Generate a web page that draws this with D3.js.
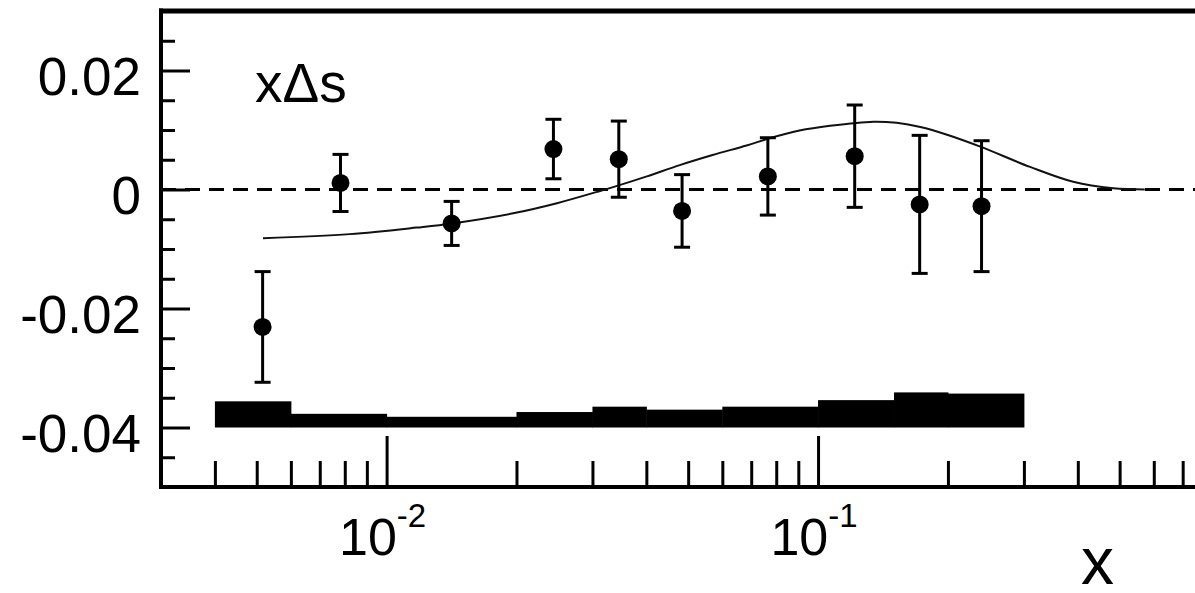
<!DOCTYPE html>
<html>
<head>
<meta charset="utf-8">
<script src="https://cdn.jsdelivr.net/npm/d3@7"></script>
<style>
  html, body { margin: 0; padding: 0; background: #fff; }
  svg { display: block; }
  text { font-family: "Liberation Sans", Arial, Helvetica, sans-serif; fill: #000; }
</style>
</head>
<body>
<svg id="chart" width="1195" height="593"></svg>
<script>
// Measured points: x, x·Δs and statistical uncertainty
const pointX   = [0.00516, 0.00782, 0.01415, 0.02436, 0.03453, 0.0484, 0.0765, 0.1216, 0.172, 0.2393];
const pointY   = [-0.0231, 0.0011, -0.0057, 0.0068, 0.0051, -0.0036, 0.0022, 0.0056, -0.0025, -0.0028];
const pointErr = [0.0093, 0.0048, 0.0037, 0.0050, 0.0064, 0.0061, 0.0065, 0.0086, 0.0116, 0.0110];

// Parametrisation curve
const curveX = [0.00517, 0.00822, 0.01175, 0.01419, 0.01965, 0.02482, 0.03074, 0.0335, 0.04011, 0.04779, 0.05696, 0.06828, 0.0772, 0.0906, 0.1066, 0.1344, 0.1522, 0.1726, 0.1991, 0.2377, 0.3101, 0.3903, 0.483, 0.5718];
const curveY = [-0.0082, -0.0075, -0.0064, -0.0057, -0.0040, -0.0023, -0.0004, 0.0004, 0.0022, 0.0041, 0.0058, 0.0074, 0.0086, 0.0099, 0.0107, 0.0114, 0.0112, 0.0105, 0.0092, 0.0072, 0.0038, 0.0013, 0.0002, 0.0];

// Systematic uncertainty band: bin edges and upper edge above the -0.04 baseline
const bandEdges = [0.004, 0.006, 0.01, 0.02, 0.03, 0.04, 0.06, 0.1, 0.15, 0.2, 0.3];
const bandTop   = [-0.0356, -0.0377, -0.0382, -0.0374, -0.0365, -0.0370, -0.0365, -0.0354, -0.0341, -0.0343];
const bandBase  = -0.04;

// Axis ticks and labels
const yMajor = [-0.04, -0.02, 0, 0.02];
const yMajorLabels = ["-0.04", "-0.02", "0", "0.02"];
const yMinor = [-0.045, -0.035, -0.03, -0.025, -0.015, -0.01, -0.005, 0.005, 0.01, 0.015, 0.025];
const xMajor = [0.01, 0.1, 1];
const xLabelled = [0.01, 0.1];
const xMajorLabels = [["10", "-2"], ["10", "-1"]];
const xMinor = [0.004, 0.005, 0.006, 0.007, 0.008, 0.009,
                0.02, 0.03, 0.04, 0.05, 0.06, 0.07, 0.08, 0.09,
                0.2, 0.3, 0.4, 0.5, 0.6, 0.7, 0.8, 0.9];

const svg = d3.select("#chart");
const frameL = 161, frameR = 1249.5, frameT = 11, frameB = 487;

const x = d3.scaleLog().domain([0.003, 1]).range([frameL, frameR]);
const y = d3.scaleLinear().domain([-0.05, 0.03]).range([frameB, frameT]);

// Systematic band
const bins = d3.range(bandTop.length).map(i => ({x0: bandEdges[i], x1: bandEdges[i + 1], top: bandTop[i]}));
svg.append("g").selectAll("rect").data(bins).join("rect")
  .attr("x", d => x(d.x0))
  .attr("width", d => x(d.x1) - x(d.x0) + 0.5)
  .attr("y", d => y(d.top))
  .attr("height", d => y(bandBase) - y(d.top))
  .attr("fill", "#000");

// Zero line
svg.append("line")
  .attr("x1", frameL).attr("x2", frameR)
  .attr("y1", y(0)).attr("y2", y(0))
  .attr("stroke", "#000").attr("stroke-width", 3)
  .attr("stroke-dasharray", "15 9");

// Curve
const line = d3.line().x(d => x(d[0])).y(d => y(d[1])).curve(d3.curveCatmullRom.alpha(0.5));
svg.append("path")
  .datum(d3.zip(curveX, curveY))
  .attr("d", line)
  .attr("fill", "none").attr("stroke", "#111").attr("stroke-width", 2);

// Error bars and markers
const pts = d3.range(pointX.length).map(i => ({x: pointX[i], y: pointY[i], e: pointErr[i]}));
const gp = svg.append("g").attr("stroke", "#000").attr("stroke-width", 3);
gp.selectAll("line.bar").data(pts).join("line").attr("class", "bar")
  .attr("x1", d => x(d.x)).attr("x2", d => x(d.x))
  .attr("y1", d => y(d.y + d.e)).attr("y2", d => y(d.y - d.e));
gp.selectAll("line.capt").data(pts).join("line").attr("class", "capt")
  .attr("x1", d => x(d.x) - 8).attr("x2", d => x(d.x) + 8)
  .attr("y1", d => y(d.y + d.e)).attr("y2", d => y(d.y + d.e));
gp.selectAll("line.capb").data(pts).join("line").attr("class", "capb")
  .attr("x1", d => x(d.x) - 8).attr("x2", d => x(d.x) + 8)
  .attr("y1", d => y(d.y - d.e)).attr("y2", d => y(d.y - d.e));
svg.append("g").selectAll("circle").data(pts).join("circle")
  .attr("cx", d => x(d.x)).attr("cy", d => y(d.y)).attr("r", 9)
  .attr("fill", "#000");

// Y axis ticks (pointing inward)
const yAxisMajor = d3.axisLeft(y).tickValues(yMajor).tickSize(-29).tickPadding(20)
  .tickFormat((d, i) => yMajorLabels[i]);
const gy = svg.append("g").attr("transform", `translate(${frameL},0)`).call(yAxisMajor);
gy.select(".domain").remove();
gy.selectAll(".tick line").attr("stroke", "#000").attr("stroke-width", 3);
gy.selectAll(".tick text")
  .attr("font-size", 53).attr("dy", "0.45em").attr("fill", "#000")
  .style("font-family", '"Liberation Sans", Arial, sans-serif');

const gyMinor = svg.append("g").attr("transform", `translate(${frameL},0)`)
  .call(d3.axisLeft(y).tickValues(yMinor).tickSize(-14).tickFormat(""));
gyMinor.select(".domain").remove();
gyMinor.selectAll(".tick line").attr("stroke", "#000").attr("stroke-width", 3);

// X axis ticks (pointing inward)
const gx = svg.append("g").attr("transform", `translate(0,${frameB})`)
  .call(d3.axisBottom(x).tickValues(xMajor).tickSize(-51).tickFormat(""));
gx.select(".domain").remove();
gx.selectAll(".tick line").attr("stroke", "#000").attr("stroke-width", 3);

const gxMinor = svg.append("g").attr("transform", `translate(0,${frameB})`)
  .call(d3.axisBottom(x).tickValues(xMinor).tickSize(-26).tickFormat(""));
gxMinor.select(".domain").remove();
gxMinor.selectAll(".tick line").attr("stroke", "#000").attr("stroke-width", 3);

// Decade labels with superscript exponents
const xl = svg.append("g").selectAll("text").data(xLabelled).join("text")
  .attr("x", d => x(d) - 4).attr("y", 555)
  .attr("text-anchor", "middle").attr("font-size", 52);
xl.append("tspan").text((d, i) => xMajorLabels[i][0]);
xl.append("tspan").attr("dy", -28).attr("font-size", 33).text((d, i) => xMajorLabels[i][1]);

// Frame
svg.append("line").attr("x1", frameL).attr("x2", frameL).attr("y1", frameT - 2.5).attr("y2", frameB + 2)
  .attr("stroke", "#000").attr("stroke-width", 4);
svg.append("line").attr("x1", frameL - 2).attr("x2", frameR).attr("y1", frameT).attr("y2", frameT)
  .attr("stroke", "#000").attr("stroke-width", 5);
svg.append("line").attr("x1", frameL - 2).attr("x2", frameR).attr("y1", frameB).attr("y2", frameB)
  .attr("stroke", "#000").attr("stroke-width", 4);
svg.append("line").attr("x1", frameR).attr("x2", frameR).attr("y1", frameT).attr("y2", frameB)
  .attr("stroke", "#000").attr("stroke-width", 4);

// Titles
svg.append("text").attr("x", 255).attr("y", 101.5).attr("font-size", 55).text("xΔs");
svg.append("text").attr("x", 1081).attr("y", 584).attr("font-size", 66).text("x");
</script>
</body>
</html>
